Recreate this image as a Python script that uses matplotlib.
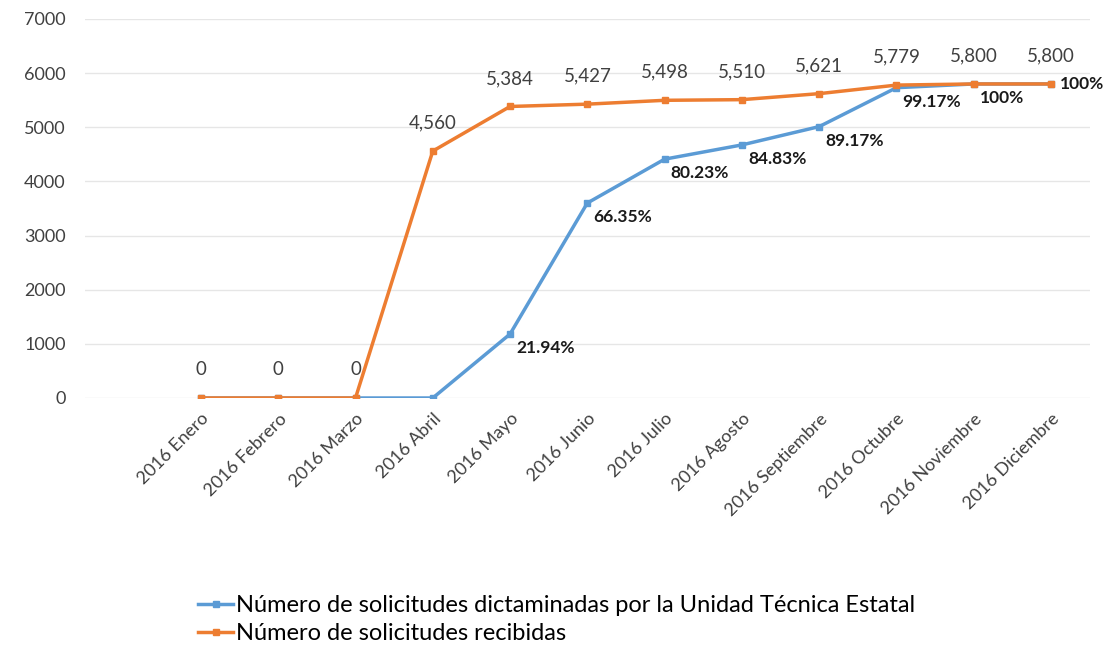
import matplotlib.pyplot as plt
import numpy as np

plt.rcParams['font.family'] = ['Lato', 'DejaVu Sans']

meses = ["2016 Enero", "2016 Febrero", "2016 Marzo", "2016 Abril", "2016 Mayo",
         "2016 Junio", "2016 Julio", "2016 Agosto", "2016 Septiembre",
         "2016 Octubre", "2016 Noviembre", "2016 Diciembre"]
recibidas = [0, 0, 0, 4560, 5384, 5427, 5498, 5510, 5621, 5779, 5800, 5800]
dictaminadas = [0, 0, 0, 0, 1181, 3601, 4411, 4674, 5012, 5731, 5800, 5800]
porcentajes = [None, None, None, None, "21.94%", "66.35%", "80.23%", "84.83%",
               "89.17%", "99.17%", "100%", "100%"]

azul = "#5B9BD5"
naranja = "#ED7D31"
gris = "#404040"

fig = plt.figure(figsize=(11.13, 6.5), dpi=100)
ax = fig.add_axes([0.0764, 0.3877, 0.9026, 0.5831])

x = np.arange(len(meses))
ax.plot(x, dictaminadas, color=azul, lw=2.5, marker='s', ms=4,
        label="Número de solicitudes dictaminadas por la Unidad Técnica Estatal", zorder=3)
ax.plot(x, recibidas, color=naranja, lw=2.5, marker='s', ms=4,
        label="Número de solicitudes recibidas", zorder=4)

for i, v in enumerate(recibidas):
    ax.annotate(f"{v:,}", (x[i], v), xytext=(0, 28), textcoords='offset pixels',
                ha='center', va='center', fontsize=13.5, color=gris)

for i, p in enumerate(porcentajes):
    if p is None:
        continue
    if i == len(porcentajes) - 1:
        off = (9, 0)
    else:
        off = (6, -14)
    ax.annotate(p, (x[i], dictaminadas[i]), xytext=off, textcoords='offset pixels',
                ha='left', va='center', fontsize=12.5, fontweight='bold', color='#1a1a1a',
                zorder=5)

ax.set_xlim(-1.5, 11.5)
ax.set_ylim(0, 7000)
ax.set_yticks(range(0, 7001, 1000))
ax.set_xticks(x)
ax.set_xticklabels(meses, rotation=45, ha='right', rotation_mode='anchor')
ax.tick_params(axis='both', length=0, labelsize=13, labelcolor=gris)
ax.tick_params(axis='y', pad=14)
ax.tick_params(axis='x', pad=9)
ax.grid(axis='y', color='#e6e6e6', lw=1)
ax.set_axisbelow(True)
for s in ax.spines.values():
    s.set_visible(False)

ax.legend(loc='upper left', bbox_to_anchor=(0.103, -0.495), frameon=False,
          fontsize=17, handlelength=1.5, handletextpad=0.1, labelspacing=0.3,
          borderaxespad=0)

fig.savefig("out.png", dpi=100)
